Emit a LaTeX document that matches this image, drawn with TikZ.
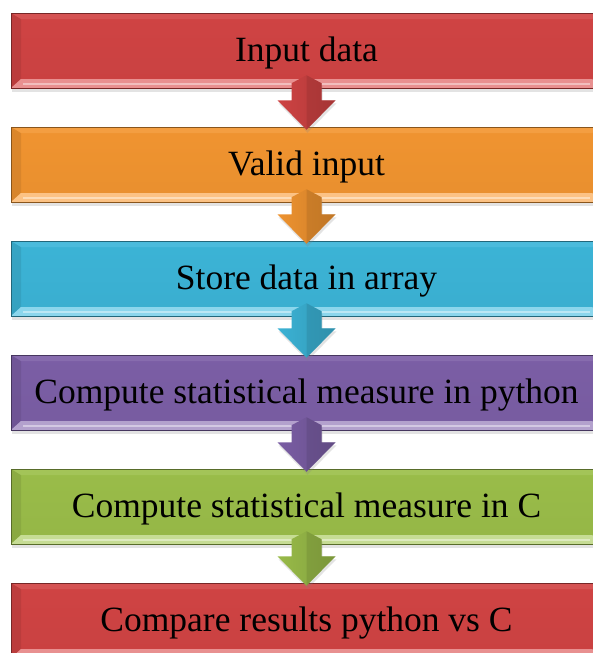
\documentclass[tikz,border=0pt]{standalone}
\usepackage{fontspec}
\setmainfont{Liberation Serif}
\usetikzlibrary{calc, shadows}

\definecolor{stepred}{HTML}{D84646}
\definecolor{steporange}{HTML}{FA9A32}
\definecolor{stepblue}{HTML}{3EBBDF}
\definecolor{steppurple}{HTML}{8062AC}
\definecolor{stepgreen}{HTML}{A0C44C}

%% block arrow hanging from one step box down to the next
\newcommand{\flowarrow}[3]{%
  \path[arrowbody=#3]
    ($(#1.south)+(0,13)$) -- ($(#1.south)+(15,5)$) -- ($(#1.south)+(15,-12)$)
    -- ($(#1.south)+(29,-12)$) -- ($(#2.north)+(0,-3)$)
    -- ($(#1.south)+(-29,-12)$) -- ($(#1.south)+(-15,-12)$)
    -- ($(#1.south)+(-15,5)$) -- cycle;
  % darker right half of the arrow
  \fill[#3!72!black, opacity=.45]
    ($(#1.south)+(0,13)$) -- ($(#1.south)+(15,5)$) -- ($(#1.south)+(15,-12)$)
    -- ($(#1.south)+(29,-12)$) -- ($(#2.north)+(0,-3)$) -- cycle;
}

\begin{document}
\begin{tikzpicture}[
  x=1pt, y=1pt,
  %% ── Step box styles ─────────────────────────────────────────────────────
  stepbox/.style={
    minimum width=591pt, minimum height=75pt, inner sep=0pt,
    text height=25.6pt, text depth=4.6pt,
    draw=#1!55!black, line width=0.5pt,
    top color=#1!96!black, middle color=#1!97!white, bottom color=#1!93!black,
    drop shadow={shadow xshift=1pt, shadow yshift=-4pt, opacity=.22},
    font=\fontsize{35.5}{40}\selectfont,
    path picture={
      % left bevel
      \fill[#1!80!black, opacity=.5]
        (path picture bounding box.south west) -- ++(10,9)
        -- ($(path picture bounding box.north west)+(10,-6)$)
        -- (path picture bounding box.north west) -- cycle;
      % top bevel
      \fill[#1!80!white, opacity=.4]
        (path picture bounding box.north west) -- ++(10,-6)
        -- ($(path picture bounding box.north east)+(-10,-6)$)
        -- (path picture bounding box.north east) -- cycle;
      % bottom highlight
      \fill[#1!60!white]
        (path picture bounding box.south west) -- ++(10,9)
        -- ($(path picture bounding box.south east)+(-10,9)$)
        -- (path picture bounding box.south east) -- cycle;
      \fill[#1!35!white]
        ($(path picture bounding box.south west)+(12,3)$) rectangle
        ($(path picture bounding box.south east)+(-12,5)$);
    }
  },
  arrowbody/.style={
    left color=#1!95!black, right color=#1!82!black,
    drop shadow={shadow xshift=1pt, shadow yshift=-3pt, opacity=.22}
  },
]

\useasboundingbox (0,0) rectangle (592,-653);

%% ═══════════════════════════════════════════════════════════════════════════
%% STEPS
%% ═══════════════════════════════════════════════════════════════════════════

\node[stepbox=stepred]    (input)   at (306.5, -50.5)  {Input data};
\node[stepbox=steporange] (valid)   at (306.5, -164.5) {Valid input};
\node[stepbox=stepblue]   (store)   at (306.5, -278.5) {Store data in array};
\node[stepbox=steppurple] (python)  at (306.5, -392.5) {Compute statistical measure in python};
\node[stepbox=stepgreen]  (clang)   at (306.5, -506.5) {Compute statistical measure in C};
\node[stepbox=stepred]    (compare) at (306.5, -620.5) {Compare results python vs C};

%% ═══════════════════════════════════════════════════════════════════════════
%% ARROWS
%% ═══════════════════════════════════════════════════════════════════════════

\flowarrow{input}{valid}{stepred}
\flowarrow{valid}{store}{steporange}
\flowarrow{store}{python}{stepblue}
\flowarrow{python}{clang}{steppurple}
\flowarrow{clang}{compare}{stepgreen}

\end{tikzpicture}
\end{document}
